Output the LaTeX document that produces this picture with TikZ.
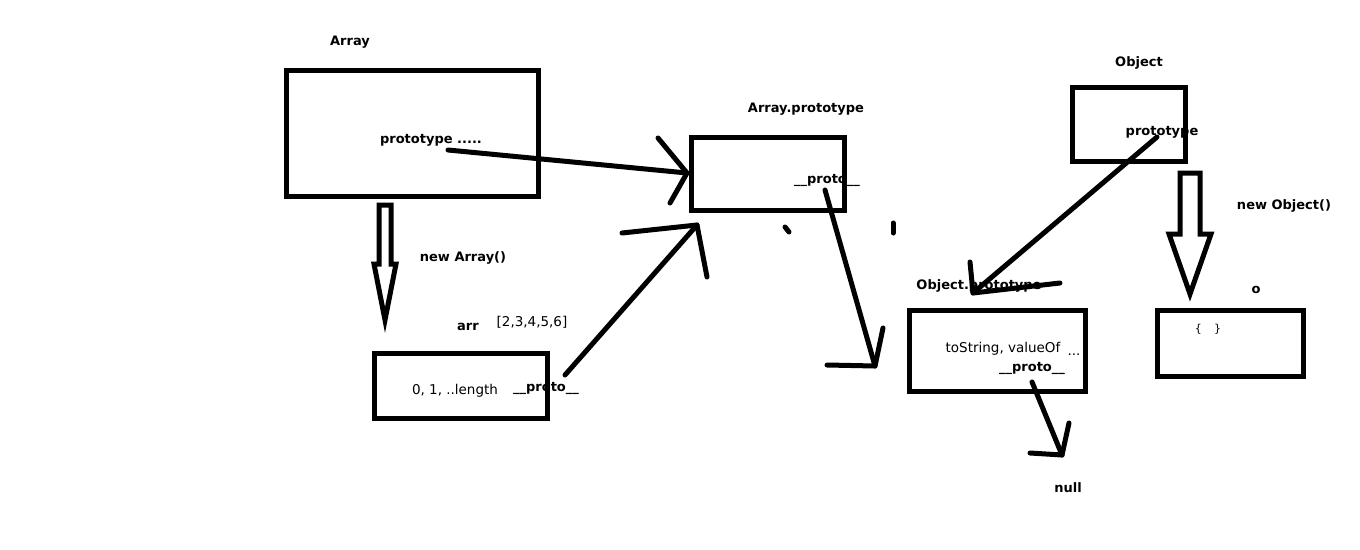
\documentclass[tikz,border=0pt]{standalone}
\usepackage{fontspec}
\setmainfont{DejaVu Sans}
\usetikzlibrary{positioning}
% hollow arrow pointing down: x, top, neck, tip, half shaft, half head
\newcommand{\hollowdown}[6]{%
  \draw[line width=5pt,line join=miter] ({#1-#5},#2) -- ({#1+#5},#2) -- ({#1+#5},#3)
    -- ({#1+#6},#3) -- (#1,#4) -- ({#1-#6},#3) -- ({#1-#5},#3) -- cycle;}

\begin{document}
\begin{tikzpicture}[x=1pt,y=-1pt,
  box/.style={draw,line width=5pt,inner sep=0pt},
  lbl/.style={inner sep=0pt,font=\fontsize{13}{15}\selectfont\bfseries},
  txt/.style={inner sep=0pt,font=\fontsize{13.5}{15}\selectfont},
  link/.style={line width=5pt,line cap=round,line join=round}]
  \useasboundingbox (0,0) rectangle (1360,549);
  % Array and arr
  \node[box,minimum width=252pt,minimum height=126pt] (array) at (412,133) {};
  \node[lbl] (arrayname) at (350,42) {Array};
  \node[lbl] (arrayprot) at (431,140) {prototype .....};
  \hollowdown{385}{205}{264}{320}{6}{11}
  \node[lbl] (newarray) at (463,258) {new Array()};
  \node[box,minimum width=173pt,minimum height=65pt] (arr) at (460.5,385.5) {};
  \node[lbl] (arrname) at (468,327) {arr};
  \node[txt] (arrval) at (532,322) {[2,3,4,5,6]};
  \node[txt] (arrkeys) at (455,391) {0, 1, ..length};
  \node[lbl] (arrproto) at (546,388) {\_\_proto\_\_};
  % Array.prototype
  \node[box,minimum width=153pt,minimum height=73pt] (aproto) at (767.5,173.5) {};
  \node[lbl] (aprotoname) at (806,109) {Array.prototype};
  \node[lbl] (aprotoproto) at (827,180) {\_\_proto\_\_};
  \draw[link] (785,227) -- (789,232);
  \draw[link] (893,223) -- (893,233);
  % Object and o
  \node[box,minimum width=113pt,minimum height=74pt] (object) at (1128.5,124) {};
  \node[lbl] (objectname) at (1139,63) {Object};
  \node[lbl] (objectprot) at (1162,132) {prototype};
  \hollowdown{1190}{173}{234}{294}{10}{21}
  \node[lbl] (newobject) at (1284,206) {new Object()};
  \node[box,minimum width=146pt,minimum height=66pt] (o) at (1230,343) {};
  \node[lbl] (oname) at (1256,290) {o};
  \node[txt,font=\fontsize{11}{12}\selectfont] (oval) at (1208,329) {\{\hspace{1.1em}\}};
  % Object.prototype
  \node[box,minimum width=176pt,minimum height=81pt] (oproto) at (997,350.5) {};
  \node[lbl] (oprotoname) at (979,286) {Object.prototype};
  \node[txt] (oprotokeys) at (1003,349) {toString, valueOf};
  \node[txt] (oprotodots) at (1074,355) {...};
  \node[lbl] (oprotoproto) at (1032,368) {\_\_proto\_\_};
  \node[lbl] (null) at (1068,488) {null};
  % links
  \coordinate (s1) at (448,150); \coordinate (t1) at (687,173);
  \coordinate (s2) at (565,375); \coordinate (t2) at (697,225);
  \coordinate (s3) at (825,190); \coordinate (t3) at (875,366);
  \coordinate (s4) at (1157,137); \coordinate (t4) at (973,293);
  \coordinate (s5) at (1032,382); \coordinate (t5) at (1062,455);
  \draw[link] (s1) -- (t1);
  \draw[link] (658,138) -- (t1) -- (670,203);
  \draw[link] (s2) -- (t2);
  \draw[link] (622,233) -- (t2) -- (707,277);
  \draw[link] (s3) -- (t3);
  \draw[link] (827,365) -- (t3) -- (883,328);
  \draw[link] (s4) -- (t4);
  \draw[link] (970,262) -- (t4) -- (1060,283);
  \draw[link] (s5) -- (t5);
  \draw[link] (1030,453) -- (t5) -- (1069,423);
\end{tikzpicture}
\end{document}
